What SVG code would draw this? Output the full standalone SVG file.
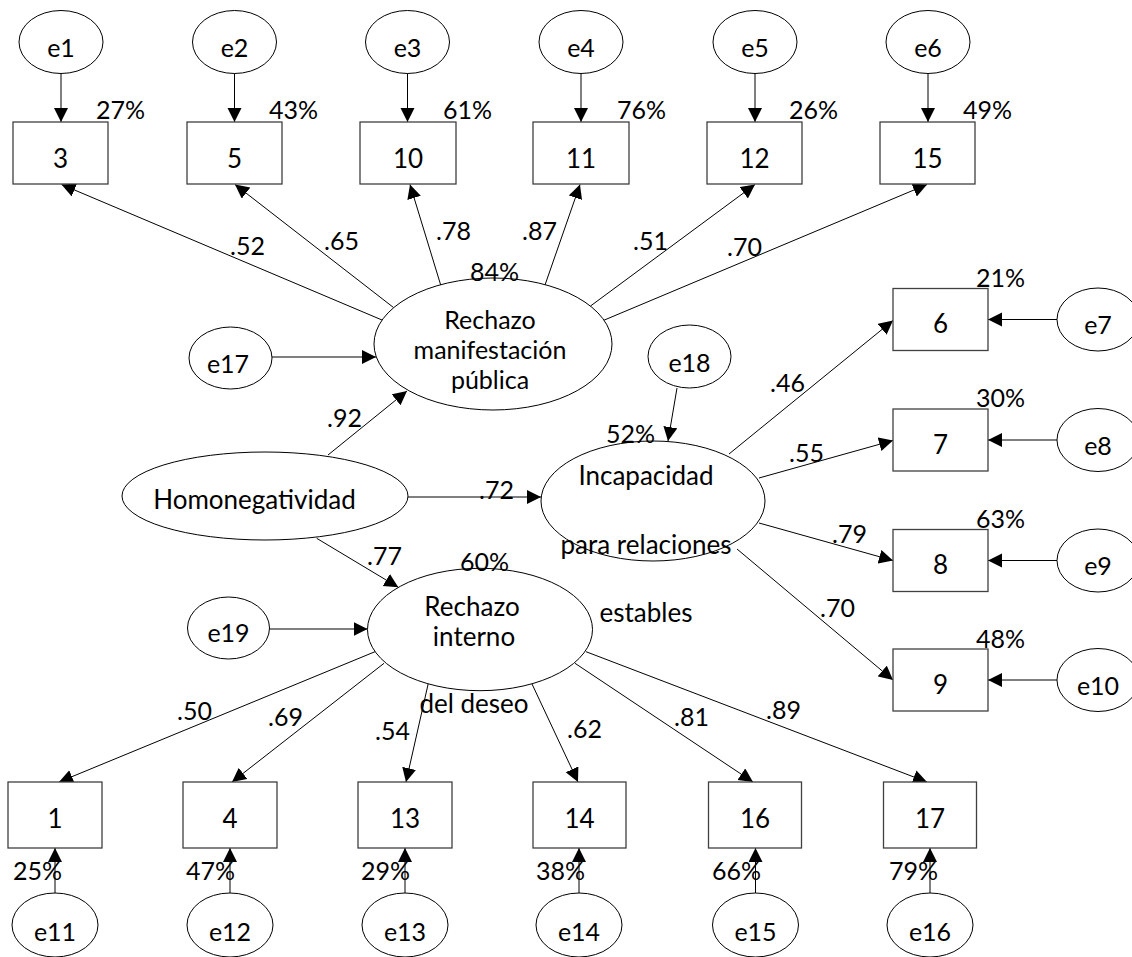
<svg xmlns="http://www.w3.org/2000/svg" width="1132" height="957" viewBox="0 0 1132 957">
<style>
text{font-family:Lato,"Liberation Sans",sans-serif;font-size:25px;fill:#000}
.c{text-anchor:middle}
.w{font-size:26px}
.b{font-size:26px}
.box{fill:#fff;stroke:#404040;stroke-width:1.3}
.ell{fill:#fff;stroke:#000;stroke-width:1}
.ln{stroke:#000;stroke-width:1;fill:none;marker-end:url(#ah)}
</style>
<defs>
<marker id="ah" markerUnits="userSpaceOnUse" markerWidth="15" markerHeight="15" refX="14" refY="7" orient="auto">
<path d="M0,0 L14,7 L0,14 z" fill="#000"/>
</marker>
</defs>
<g id="connectors">
<line class="ln" x1="61" y1="73" x2="61" y2="122"/>
<line class="ln" x1="234.5" y1="73" x2="234.5" y2="122"/>
<line class="ln" x1="407.5" y1="73" x2="407.5" y2="122"/>
<line class="ln" x1="581" y1="73" x2="581" y2="122"/>
<line class="ln" x1="755" y1="73" x2="755" y2="122"/>
<line class="ln" x1="928" y1="73" x2="928" y2="122"/>
<line class="ln" x1="382" y1="320" x2="61.5" y2="184.5"/>
<line class="ln" x1="393.5" y1="307.5" x2="235" y2="184.5"/>
<line class="ln" x1="441" y1="286" x2="410" y2="184.5"/>
<line class="ln" x1="545" y1="285" x2="580" y2="184.5"/>
<line class="ln" x1="590.5" y1="306" x2="755" y2="184.5"/>
<line class="ln" x1="603" y1="320.6" x2="927" y2="184.5"/>
<line class="ln" x1="272" y1="357" x2="376" y2="357"/>
<line class="ln" x1="677" y1="388" x2="668" y2="441"/>
<line class="ln" x1="328" y1="455" x2="407" y2="391"/>
<line class="ln" x1="408" y1="497" x2="541" y2="497"/>
<line class="ln" x1="316.7" y1="538.3" x2="398.3" y2="587.3"/>
<line class="ln" x1="269.5" y1="629" x2="367.5" y2="629"/>
<line class="ln" x1="729" y1="454" x2="893" y2="320.5"/>
<line class="ln" x1="759" y1="478" x2="893" y2="440.5"/>
<line class="ln" x1="759" y1="523" x2="893" y2="560.5"/>
<line class="ln" x1="737" y1="549" x2="893" y2="680"/>
<line class="ln" x1="1057" y1="319.5" x2="988" y2="319.5"/>
<line class="ln" x1="1057" y1="440" x2="988" y2="440"/>
<line class="ln" x1="1057" y1="560.5" x2="988" y2="560.5"/>
<line class="ln" x1="1057" y1="680" x2="988" y2="680"/>
<line class="ln" x1="375" y1="651.7" x2="59" y2="782"/>
<line class="ln" x1="384" y1="663.3" x2="232" y2="782"/>
<line class="ln" x1="428.3" y1="683.3" x2="406" y2="782"/>
<line class="ln" x1="531.7" y1="683.3" x2="578" y2="782"/>
<line class="ln" x1="575" y1="663.3" x2="753" y2="782"/>
<line class="ln" x1="586" y1="651.7" x2="927" y2="782"/>
<line class="ln" x1="55" y1="893" x2="55" y2="848"/>
<line class="ln" x1="230" y1="893" x2="230" y2="848"/>
<line class="ln" x1="405" y1="893" x2="405" y2="848"/>
<line class="ln" x1="579" y1="893" x2="579" y2="848"/>
<line class="ln" x1="755.5" y1="893" x2="755.5" y2="848"/>
<line class="ln" x1="930" y1="893" x2="930" y2="848"/>
</g>
<g id="e1"><ellipse class="ell" cx="61" cy="42" rx="42" ry="31.5"/><text class="c" x="61" y="57">e1</text></g>
<g id="e2"><ellipse class="ell" cx="234.5" cy="42" rx="42" ry="31.5"/><text class="c" x="234.5" y="57">e2</text></g>
<g id="e3"><ellipse class="ell" cx="407.5" cy="42" rx="42" ry="31.5"/><text class="c" x="407.5" y="57">e3</text></g>
<g id="e4"><ellipse class="ell" cx="581" cy="42" rx="42" ry="31.5"/><text class="c" x="581" y="57">e4</text></g>
<g id="e5"><ellipse class="ell" cx="755" cy="42" rx="42" ry="31.5"/><text class="c" x="755" y="57">e5</text></g>
<g id="e6"><ellipse class="ell" cx="928" cy="42" rx="42" ry="31.5"/><text class="c" x="928" y="57">e6</text></g>
<g id="v3"><rect class="box" x="13" y="122" width="95" height="62"/><text class="c b" x="60.5" y="168">3</text><text x="96" y="119">27%</text></g>
<g id="v5"><rect class="box" x="187" y="122" width="95" height="62"/><text class="c b" x="234.5" y="168">5</text><text x="269" y="119">43%</text></g>
<g id="v10"><rect class="box" x="360" y="122" width="96" height="62"/><text class="c b" x="408" y="168">10</text><text x="443" y="119">61%</text></g>
<g id="v11"><rect class="box" x="533" y="122" width="96" height="62"/><text class="c b" x="581" y="168">11</text><text x="617" y="119">76%</text></g>
<g id="v12"><rect class="box" x="707" y="122" width="95" height="62"/><text class="c b" x="754.5" y="168">12</text><text x="789" y="119">26%</text></g>
<g id="v15"><rect class="box" x="880" y="122" width="95" height="62"/><text class="c b" x="927.5" y="168">15</text><text x="963" y="119">49%</text></g>
<g id="rmp"><ellipse class="ell" cx="493" cy="344" rx="119" ry="66"/><text class="c" x="490" y="329">Rechazo</text><text class="c" x="490" y="359">manifestación</text><text class="c" x="490" y="389">pública</text><text x="470" y="281">84%</text></g>
<g id="e17"><ellipse class="ell" cx="230.5" cy="358" rx="41.5" ry="31"/><text class="c" x="228" y="373">e17</text></g>
<g id="e18"><ellipse class="ell" cx="689.5" cy="356.5" rx="41.5" ry="31.5"/><text class="c" x="689.5" y="371.5">e18</text></g>
<g id="homo"><ellipse class="ell" cx="265" cy="496" rx="143" ry="44"/><text class="c w" x="254.5" y="509">Homonegatividad</text></g>
<g id="inc"><ellipse class="ell" cx="653" cy="501" rx="112" ry="60"/><text class="c w" x="646" y="485">Incapacidad</text><text class="c w" x="646" y="554">para relaciones</text><text class="c w" x="646" y="622">estables</text><text x="606" y="443">52%</text></g>
<g id="e19"><ellipse class="ell" cx="228.5" cy="628" rx="41" ry="31"/><text class="c" x="228.5" y="642">e19</text></g>
<g id="rid"><ellipse class="ell" cx="480" cy="629.5" rx="112.5" ry="61.2"/><text class="c w" x="472" y="616">Rechazo</text><text class="c w" x="474" y="646">interno</text><text class="c w" x="474" y="713">del deseo</text><text x="460" y="571">60%</text></g>
<g id="v6"><rect class="box" x="893" y="288.5" width="95" height="62"/><text class="c b" x="940.5" y="333">6</text><text x="976" y="287">21%</text></g>
<g id="v7"><rect class="box" x="893" y="409" width="95" height="62"/><text class="c b" x="940.5" y="454">7</text><text x="976" y="407">30%</text></g>
<g id="v8"><rect class="box" x="893" y="529.5" width="95" height="62"/><text class="c b" x="940.5" y="574">8</text><text x="976" y="528">63%</text></g>
<g id="v9"><rect class="box" x="893" y="649" width="95" height="62"/><text class="c b" x="940.5" y="694">9</text><text x="976" y="648">48%</text></g>
<g id="e7"><ellipse class="ell" cx="1098" cy="319.5" rx="41" ry="31.5"/><text class="c" x="1098" y="334">e7</text></g>
<g id="e8"><ellipse class="ell" cx="1098" cy="440" rx="41" ry="31.5"/><text class="c" x="1098" y="455">e8</text></g>
<g id="e9"><ellipse class="ell" cx="1098" cy="560.5" rx="41" ry="31.5"/><text class="c" x="1098" y="575">e9</text></g>
<g id="e10"><ellipse class="ell" cx="1098" cy="680" rx="41" ry="31.5"/><text class="c" x="1098" y="695">e10</text></g>
<g id="v1"><rect class="box" x="8" y="782" width="94" height="66"/><text class="c b" x="55" y="828">1</text><text x="13" y="880">25%</text></g>
<g id="v4"><rect class="box" x="183" y="782" width="94" height="66"/><text class="c b" x="230" y="828">4</text><text x="186" y="880">47%</text></g>
<g id="v13"><rect class="box" x="358" y="782" width="94" height="66"/><text class="c b" x="405" y="828">13</text><text x="361" y="880">29%</text></g>
<g id="v14"><rect class="box" x="533" y="782" width="93" height="66"/><text class="c b" x="579.5" y="828">14</text><text x="536" y="880">38%</text></g>
<g id="v16"><rect class="box" x="708.5" y="782" width="93" height="66"/><text class="c b" x="755" y="828">16</text><text x="712" y="880">66%</text></g>
<g id="v17"><rect class="box" x="883.5" y="782" width="93" height="66"/><text class="c b" x="930" y="828">17</text><text x="889" y="880">79%</text></g>
<g id="e11"><ellipse class="ell" cx="55" cy="925" rx="43" ry="32"/><text class="c" x="55" y="941">e11</text></g>
<g id="e12"><ellipse class="ell" cx="230" cy="925" rx="43" ry="32"/><text class="c" x="230" y="941">e12</text></g>
<g id="e13"><ellipse class="ell" cx="405" cy="925" rx="43" ry="32"/><text class="c" x="405" y="941">e13</text></g>
<g id="e14"><ellipse class="ell" cx="579" cy="925" rx="43" ry="32"/><text class="c" x="579" y="941">e14</text></g>
<g id="e15"><ellipse class="ell" cx="755.5" cy="925" rx="43" ry="32"/><text class="c" x="755.5" y="941">e15</text></g>
<g id="e16"><ellipse class="ell" cx="930" cy="925" rx="43" ry="32"/><text class="c" x="930" y="941">e16</text></g>
<g id="labels">
<text x="230" y="255">.52</text>
<text x="324" y="250">.65</text>
<text x="436" y="240">.78</text>
<text x="522" y="240">.87</text>
<text x="633" y="250">.51</text>
<text x="727" y="256">.70</text>
<text x="327" y="427">.92</text>
<text x="479" y="499">.72</text>
<text x="770" y="392">.46</text>
<text x="789" y="462">.55</text>
<text x="832" y="543">.79</text>
<text x="820" y="617">.70</text>
<text x="367" y="565">.77</text>
<text x="177" y="720">.50</text>
<text x="268" y="726">.69</text>
<text x="375" y="740">.54</text>
<text x="567" y="738">.62</text>
<text x="674" y="726">.81</text>
<text x="766" y="719">.89</text>
</g>
</svg>
